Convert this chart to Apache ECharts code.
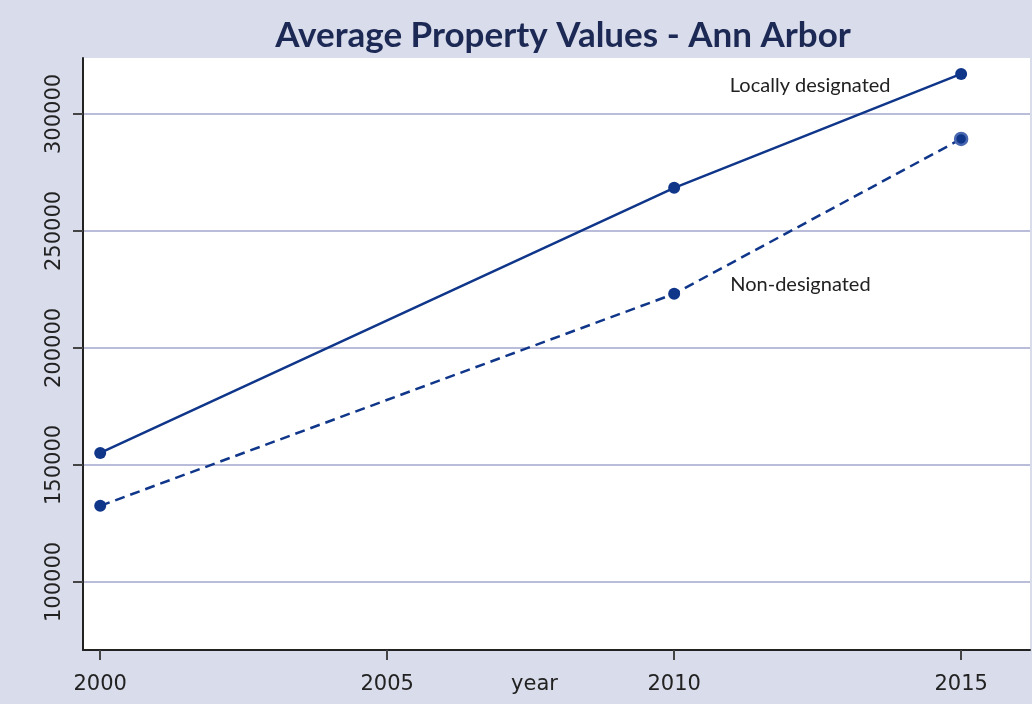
<!DOCTYPE html>
<html>
<head>
<meta charset="utf-8">
<script src="https://cdn.jsdelivr.net/npm/echarts@6/dist/echarts.min.js"></script>
<style>html,body{margin:0;padding:0;background:#d9dcea;}#c{width:1032px;height:704px;}</style>
</head>
<body>
<div id="c"></div>
<script>
const years = [2000, 2010, 2015];
const locallyDesignated = [155100, 268400, 317100];
const nonDesignated = [132500, 223100, 289300];
const xTicks = [2000, 2005, 2010, 2015];
const yTicks = [100000, 150000, 200000, 250000, 300000];
const titleText = 'Average Property Values - Ann Arbor';
const seriesNames = ['Locally designated', 'Non-designated'];
const labelAnchors = [[2012.37, 312000], [2012.2, 226900]];

const chart = echarts.init(document.getElementById('c'), null, {renderer: 'canvas'});
const lineColor = '#10368a';
const tickFont = {fontFamily: 'DejaVu Sans', fontSize: 21, color: '#222222', fontWeight: 'normal'};
const annFont = {fontFamily: 'Lato', fontSize: 20, fontWeight: 'normal', color: '#222'};

function pts(vals) { return years.map((y, i) => [y, vals[i]]); }

function annotation(i) {
  return {
    symbol: 'circle', symbolSize: 1,
    itemStyle: {color: 'rgba(0,0,0,0)'},
    data: [{coord: labelAnchors[i], value: seriesNames[i]}],
    label: Object.assign({show: true, position: 'inside', formatter: seriesNames[i]}, annFont)
  };
}

chart.setOption({
  backgroundColor: '#d9dcea',
  animation: false,
  title: {
    text: titleText,
    left: 558, top: 13, textAlign: 'center',
    textStyle: {fontFamily: 'Lato', fontSize: 35, fontWeight: 'bold', color: '#1d2955'}
  },
  grid: {left: 83, right: 2, top: 58, bottom: 54, show: true, backgroundColor: '#ffffff', borderWidth: 0, outerBoundsMode: 'none', containLabel: false},
  xAxis: {
    type: 'value', min: 1999.7, max: 2016.2,
    name: 'year', nameLocation: 'middle', nameGap: 24, nameMoveOverlap: false,
    nameTextStyle: Object.assign({}, tickFont, {padding: [0, 44, 0, 0]}),
    axisLine: {show: true, onZero: false, lineStyle: {color: '#222', width: 2}},
    axisTick: {show: true, length: 10, customValues: xTicks, lineStyle: {color: '#444', width: 2}},
    axisLabel: Object.assign({customValues: xTicks, margin: 24, formatter: v => String(v)}, tickFont),
    splitLine: {show: false}
  },
  yAxis: {
    type: 'value', min: 70900, max: 323900,
    axisLine: {show: true, onZero: false, lineStyle: {color: '#222', width: 2}},
    axisTick: {show: true, length: 10, customValues: yTicks, lineStyle: {color: '#444', width: 2}},
    axisLabel: Object.assign({customValues: yTicks, rotate: 90, margin: 18, formatter: v => String(v)}, tickFont),
    splitLine: {show: true, lineStyle: {color: '#babdd9', width: 2}}
  },
  series: [
    {
      name: seriesNames[0], type: 'line', data: pts(locallyDesignated),
      symbol: 'circle', symbolSize: 12, z: 3,
      lineStyle: {color: lineColor, width: 2.5},
      itemStyle: {color: lineColor},
      markPoint: annotation(0)
    },
    {
      name: seriesNames[1], type: 'line',
      data: pts(nonDesignated).map((p, i) => i === 2 ? {value: p, itemStyle: {borderColor: '#4a68b0', borderWidth: 2.5}} : p),
      symbol: 'circle', symbolSize: 12, z: 3,
      lineStyle: {color: lineColor, width: 2.5, type: [10, 6]},
      itemStyle: {color: lineColor},
      markPoint: annotation(1)
    }
  ]
});
</script>
</body>
</html>
